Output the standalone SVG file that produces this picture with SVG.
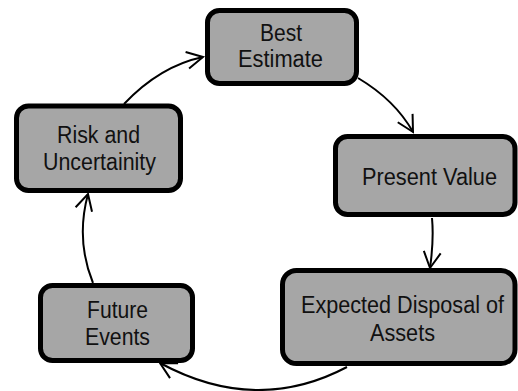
<svg xmlns="http://www.w3.org/2000/svg" width="518" height="391" viewBox="0 0 518 391">
<style>
.box{fill:#a6a6a6;stroke:#000;stroke-width:5}
.lbl{font-family:"Liberation Sans",Arial,sans-serif;font-size:23px;fill:#111;text-anchor:middle}
.conn{fill:none;stroke:#000;stroke-width:2}
</style>
<defs>
<marker id="arr" markerUnits="userSpaceOnUse" markerWidth="20" markerHeight="20" refX="0" refY="0" orient="auto" overflow="visible">
<path d="M-16,-8.5 L0,0 L-16,8.5" fill="none" stroke="#000" stroke-width="2"/>
</marker>
</defs>
<rect width="518" height="391" fill="#fff"/>
<g id="connectors">
<path class="conn" d="M124,104 Q160,66 203,57" marker-end="url(#arr)"/>
<path class="conn" d="M358,78 Q395,100 413,132" marker-end="url(#arr)"/>
<path class="conn" d="M432,218 Q434,240 430,268" marker-end="url(#arr)"/>
<path class="conn" d="M347,367 Q256,415 160,363" marker-end="url(#arr)"/>
<path class="conn" d="M93,283 Q75.5,240 88,194" marker-end="url(#arr)"/>
</g>
<g id="best-estimate">
<rect class="box" x="207.5" y="10.5" width="149" height="73" rx="12"/>
<text class="lbl" x="281" y="41" textLength="42" lengthAdjust="spacingAndGlyphs">Best</text>
<text class="lbl" x="280.5" y="67" textLength="85" lengthAdjust="spacingAndGlyphs">Estimate</text>
</g>
<g id="present-value">
<rect class="box" x="335.5" y="136.5" width="179.5" height="78" rx="12"/>
<text class="lbl" x="429.5" y="185" textLength="135" lengthAdjust="spacingAndGlyphs">Present Value</text>
</g>
<g id="expected-disposal">
<rect class="box" x="282.5" y="270.5" width="232.5" height="93" rx="14"/>
<text class="lbl" x="402.5" y="313" textLength="203" lengthAdjust="spacingAndGlyphs">Expected Disposal of</text>
<text class="lbl" x="402.5" y="341" textLength="65" lengthAdjust="spacingAndGlyphs">Assets</text>
</g>
<g id="future-events">
<rect class="box" x="40.5" y="285.5" width="152" height="75" rx="12"/>
<text class="lbl" x="117.5" y="318" textLength="61" lengthAdjust="spacingAndGlyphs">Future</text>
<text class="lbl" x="117.5" y="345" textLength="65" lengthAdjust="spacingAndGlyphs">Events</text>
</g>
<g id="risk-uncertainty">
<rect class="box" x="16.5" y="106" width="164" height="84.5" rx="12"/>
<text class="lbl" x="98.5" y="143" textLength="83" lengthAdjust="spacingAndGlyphs">Risk and</text>
<text class="lbl" x="99.5" y="170" textLength="113" lengthAdjust="spacingAndGlyphs">Uncertainity</text>
</g>
</svg>
